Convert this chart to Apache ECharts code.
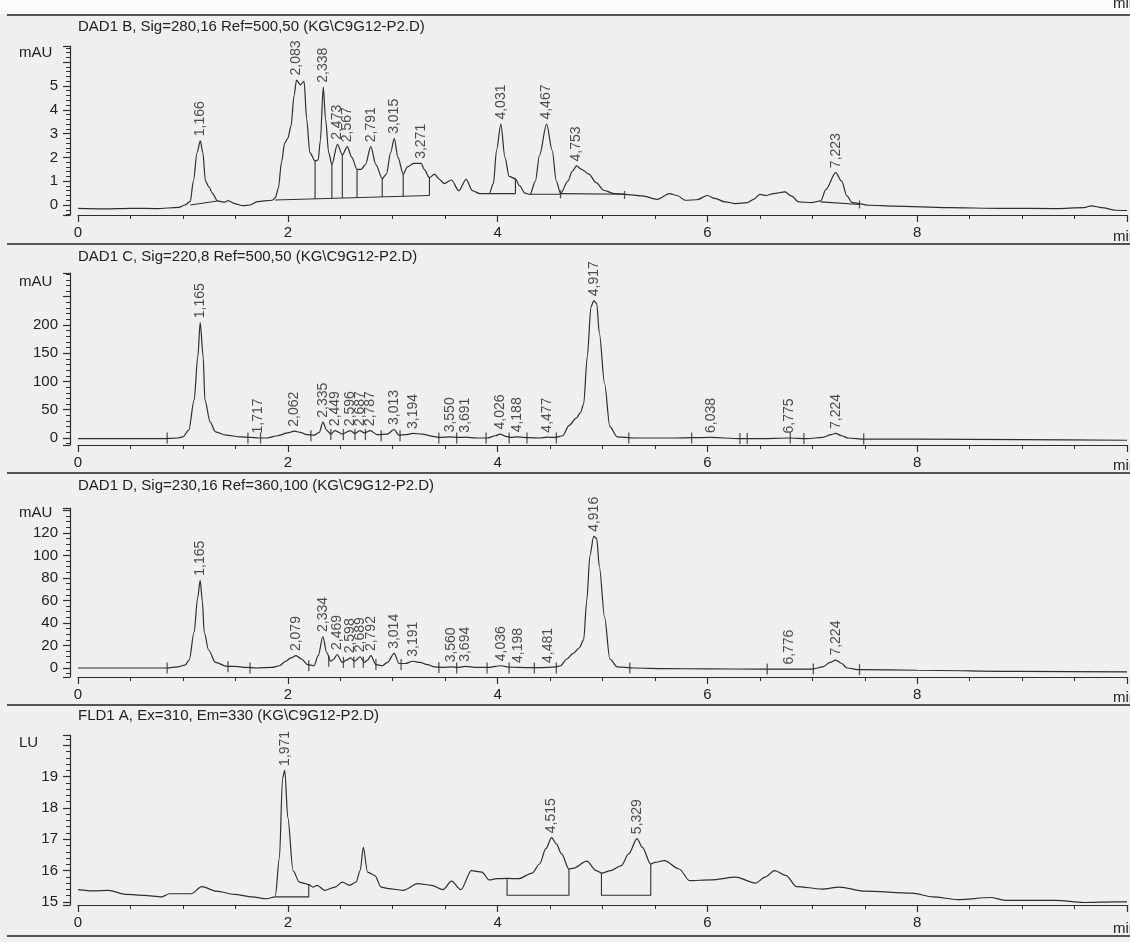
<!DOCTYPE html>
<html>
<head>
<meta charset="utf-8">
<title>KG C9G12-P2 chromatograms</title>
<script src="https://cdn.jsdelivr.net/npm/echarts@6/dist/echarts.min.js"></script>
<style>
  html, body { margin: 0; padding: 0; background: #efefef; }
  #chart { width: 1130px; height: 942px; }
</style>
</head>
<body>
<div id="chart"></div>
<script>
// ---------- signal titles and units ----------
const TITLES = [
  'DAD1 B, Sig=280,16 Ref=500,50 (KG\\C9G12-P2.D)',
  'DAD1 C, Sig=220,8 Ref=500,50 (KG\\C9G12-P2.D)',
  'DAD1 D, Sig=230,16 Ref=360,100 (KG\\C9G12-P2.D)',
  'FLD1 A, Ex=310, Em=330 (KG\\C9G12-P2.D)'
];
const UNITS = ['mAU', 'mAU', 'mAU', 'LU'];

// ---------- tick labels ----------
const X_TICKS = [0, 2, 4, 6, 8];
const Y_TICKS_B = [0, 1, 2, 3, 4, 5];
const Y_TICKS_C = [0, 50, 100, 150, 200];
const Y_TICKS_D = [0, 20, 40, 60, 80, 100, 120];
const Y_TICKS_A = [15, 16, 17, 18, 19];

// ---------- DAD1 B (280 nm) ----------
// labelled peaks: [retention time, apex height]
const PEAKS_B = [[1.166, 2.7], [2.083, 5.25], [2.338, 4.95], [2.473, 2.55], [2.567, 2.45], [2.791, 2.45],
  [3.015, 2.8], [3.271, 1.75], [4.031, 3.4], [4.467, 3.4], [4.753, 1.64], [7.223, 1.36]];
// signal between the labelled apexes: [time, mAU]
const TRACE_B = [[0.00, -0.14], [0.25, -0.16], [0.50, -0.14], [0.75, -0.15], [0.96, -0.10], [1.02, 0.00],
  [1.07, 0.15], [1.10, 1.0], [1.135, 2.2], [1.19, 2.2], [1.215, 1.0], [1.25, 0.75], [1.28, 0.5], [1.33, 0.17],
  [1.40, 0.12], [1.43, 0.18], [1.50, 0.05], [1.57, -0.03], [1.64, 0.0], [1.71, 0.14], [1.85, 0.2], [1.88, 0.3],
  [1.91, 0.7], [1.94, 1.8], [1.97, 2.6], [2.00, 2.8], [2.03, 3.3], [2.06, 4.6], [2.12, 5.05], [2.155, 5.2],
  [2.18, 3.6], [2.21, 2.2], [2.26, 1.85], [2.29, 1.9], [2.31, 2.7], [2.36, 3.6], [2.39, 2.2], [2.42, 1.7],
  [2.52, 2.1], [2.61, 2.0], [2.66, 1.5], [2.70, 1.5], [2.74, 1.7], [2.84, 1.7], [2.90, 1.1], [2.94, 1.3],
  [2.98, 2.2], [3.05, 2.0], [3.10, 1.3], [3.14, 1.6], [3.20, 1.75], [3.30, 1.5], [3.35, 1.15], [3.40, 1.3],
  [3.44, 1.1], [3.49, 0.9], [3.56, 1.05], [3.63, 0.6], [3.70, 1.08], [3.76, 0.6], [3.83, 0.48], [3.92, 0.48],
  [3.96, 0.9], [3.99, 2.3], [4.07, 2.0], [4.11, 1.2], [4.17, 1.1], [4.21, 0.8], [4.26, 0.5], [4.31, 0.45],
  [4.36, 1.0], [4.40, 2.1], [4.52, 2.3], [4.56, 1.0], [4.60, 0.48], [4.67, 1.0], [4.71, 1.4], [4.80, 1.5],
  [4.87, 1.3],
  [4.94, 0.94], [5.01, 0.62], [5.11, 0.48], [5.21, 0.45], [5.38, 0.38], [5.52, 0.24], [5.64, 0.48], [5.71, 0.4],
  [5.79, 0.2], [5.90, 0.22], [6.00, 0.4], [6.07, 0.28], [6.17, 0.13], [6.27, 0.06], [6.38, 0.1], [6.44, 0.24],
  [6.50, 0.45], [6.56, 0.4], [6.63, 0.48], [6.74, 0.55], [6.80, 0.38], [6.87, 0.13], [6.99, 0.1], [7.08, 0.17],
  [7.13, 0.66], [7.28, 1.0], [7.33, 0.38], [7.38, 0.1], [7.54, -0.01], [7.78, -0.05], [8.29, -0.11],
  [8.80, -0.14], [9.32, -0.15], [9.59, -0.11], [9.66, -0.04], [9.76, -0.11], [9.89, -0.22], [10.0, -0.23]];
// integration baselines: [start, value, end, value]
const BASE_B = [[1.07, 0.0, 1.33, 0.17], [1.88, 0.21, 3.35, 0.40], [3.92, 0.48, 4.17, 0.48],
  [4.31, 0.45, 4.60, 0.45], [4.60, 0.48, 5.21, 0.45], [7.08, 0.13, 7.45, 0.02]];
// peak separation drops: [time, baseline, signal]
const DROPS_B = [[2.26, 0.26, 1.85], [2.42, 0.28, 1.7], [2.52, 0.29, 2.1], [2.66, 0.31, 1.5],
  [2.90, 0.34, 1.1], [3.10, 0.37, 1.3], [3.35, 0.40, 1.15], [4.17, 0.48, 1.1]];
const MARKS_B = [[4.60, 0.45], [5.21, 0.42], [7.45, 0.02]];

// ---------- DAD1 C (220 nm) ----------
const PEAKS_C = [[1.165, 204], [1.717, 0], [2.062, 12], [2.335, 28], [2.449, 13], [2.596, 13], [2.687, 13],
  [2.787, 13], [3.013, 15], [3.194, 8], [3.550, 2], [3.691, 1.5], [4.026, 7], [4.188, 2], [4.477, 1.5],
  [4.917, 243], [6.038, 1], [6.775, 0], [7.224, 8]];
const TRACE_C = [[0.00, -1], [0.40, -1], [0.80, -1], [0.95, 0], [1.00, 2], [1.056, 14], [1.107, 67],
  [1.142, 144], [1.193, 144], [1.21, 67], [1.26, 28], [1.31, 11], [1.41, 5], [1.55, 2], [1.65, 1], [1.80, 0],
  [1.90, 4], [2.00, 9], [2.12, 10], [2.18, 6], [2.25, 5], [2.30, 10], [2.37, 14], [2.41, 7], [2.52, 7],
  [2.64, 8], [2.73, 9], [2.85, 6], [2.95, 7], [3.06, 5], [3.12, 6], [3.28, 7], [3.38, 3], [3.45, 1], [3.62, 1],
  [3.80, 0], [3.90, 0], [3.98, 4], [4.08, 3], [4.13, 1], [4.30, 0.5], [4.40, 0], [4.55, 1], [4.62, 4],
  [4.68, 22], [4.75, 35], [4.79, 45], [4.82, 60], [4.855, 144], [4.89, 232], [4.945, 238], [4.97, 185],
  [5.02, 96], [5.07, 20], [5.14, 2], [5.30, 0], [5.70, 0], [6.30, -1], [6.50, -1], [6.95, -1], [7.10, 1],
  [7.18, 6], [7.28, 4], [7.34, 0], [7.50, -2], [8.00, -2], [9.00, -3], [10.0, -4]];
// peak start / end ticks: [time, signal]
const MARKS_C = [[0.85, 0], [1.62, 0], [1.74, 0], [2.22, 4], [2.41, 6], [2.53, 6], [2.64, 6], [2.74, 6],
  [2.89, 4], [3.07, 4], [3.44, 0], [3.61, 0], [3.89, 0], [4.11, 0], [4.28, 0], [4.56, 0], [5.25, 0],
  [5.85, 0], [6.31, -1], [6.38, -1], [6.79, 0], [6.92, -1], [7.49, -2]];

// ---------- DAD1 D (230 nm) ----------
const PEAKS_D = [[1.165, 78], [2.079, 11], [2.334, 28], [2.469, 12], [2.598, 9], [2.689, 10], [2.792, 11],
  [3.014, 13], [3.191, 6], [3.560, 1], [3.694, 1.5], [4.036, 2], [4.198, 0.5], [4.481, 0.5], [4.916, 117],
  [6.776, -1], [7.224, 7]];
const TRACE_D = [[0.00, 0], [0.50, 0], [0.85, 0], [0.95, 1], [1.02, 2.5], [1.06, 7], [1.107, 32], [1.14, 62],
  [1.185, 60], [1.203, 32], [1.245, 16], [1.31, 5], [1.42, 1.5], [1.50, 1.5], [1.60, 0.5], [1.70, 0],
  [1.85, 0.5], [1.92, 2], [1.98, 6], [2.03, 9], [2.13, 8], [2.19, 3], [2.25, 2], [2.29, 11], [2.37, 14],
  [2.41, 6], [2.44, 8], [2.52, 5], [2.56, 7], [2.64, 6], [2.73, 5], [2.76, 7], [2.84, 3], [2.90, 2], [2.95, 5],
  [3.06, 4], [3.12, 4], [3.26, 5], [3.33, 3], [3.40, 1], [3.48, 0.5], [3.62, 0.5], [3.80, 0.5], [3.92, 0.5],
  [3.98, 1.5], [4.10, 0.8], [4.35, 0.3], [4.55, 1], [4.60, 2], [4.66, 8], [4.72, 13], [4.78, 18], [4.82, 25],
  [4.85, 60], [4.88, 100], [4.945, 115], [4.97, 90], [5.02, 45], [5.07, 8], [5.14, 1], [5.30, 0],
  [5.60, -0.5], [6.00, -0.8], [6.50, -1], [7.00, -1], [7.10, 1], [7.17, 5], [7.28, 4], [7.33, 0],
  [7.45, -1.5], [8.00, -2], [9.00, -3], [10.0, -3.5]];
const MARKS_D = [[0.85, 0], [1.43, 1], [1.64, 0], [2.20, 2], [2.39, 6], [2.53, 5], [2.63, 5], [2.72, 5],
  [2.84, 3], [3.08, 3], [3.44, 0.5], [3.61, 0], [3.90, 0], [4.11, 0], [4.35, 0], [4.56, 0], [5.26, 0],
  [6.57, -1], [7.01, -1], [7.45, -1.5]];

// ---------- FLD1 A (fluorescence) ----------
const PEAKS_A = [[1.971, 19.2], [4.515, 17.05], [5.329, 17.02]];
const TRACE_A = [[0.00, 15.39], [0.15, 15.35], [0.29, 15.37], [0.46, 15.24], [0.63, 15.21], [0.80, 15.16],
  [0.87, 15.26], [1.08, 15.26], [1.18, 15.49], [1.32, 15.34], [1.49, 15.24], [1.66, 15.16], [1.80, 15.1],
  [1.88, 15.16], [1.92, 16.4], [1.95, 18.95], [2.00, 17.7], [2.05, 16.0], [2.11, 15.63], [2.17, 15.58],
  [2.20, 15.55], [2.24, 15.47], [2.28, 15.53], [2.35, 15.37], [2.45, 15.47], [2.52, 15.63], [2.59, 15.53],
  [2.65, 15.63], [2.69, 16.0], [2.72, 16.74], [2.76, 15.95], [2.83, 15.84], [2.89, 15.47], [2.96, 15.42],
  [3.10, 15.37], [3.24, 15.58], [3.37, 15.53], [3.48, 15.39], [3.56, 15.66], [3.65, 15.39], [3.75, 16.0],
  [3.85, 15.95], [3.92, 15.7], [3.99, 15.74], [4.09, 15.75], [4.20, 15.74], [4.33, 15.92], [4.40, 16.21],
  [4.46, 16.7], [4.56, 16.85], [4.61, 16.53], [4.68, 16.05], [4.72, 16.07], [4.85, 16.3], [4.94, 16.0],
  [4.99, 15.92], [5.08, 16.0], [5.18, 16.16], [5.25, 16.53], [5.38, 16.74], [5.46, 16.21], [5.50, 16.26],
  [5.59, 16.32], [5.73, 16.05], [5.83, 15.68], [6.03, 15.7], [6.27, 15.79], [6.46, 15.6], [6.55, 15.79],
  [6.64, 16.0], [6.75, 15.84], [6.85, 15.49], [7.09, 15.41], [7.26, 15.47], [7.50, 15.34], [7.95, 15.28],
  [8.15, 15.16], [8.39, 15.07], [8.70, 15.14], [8.84, 15.05], [9.32, 15.05], [9.59, 14.98], [9.89, 15.0],
  [10.0, 15.0]];
// integration boxes: [start, end, baseline, signal at start, signal at end]
const BOXES_A = [[1.88, 2.20, 15.16, 15.16, 15.55], [4.09, 4.68, 15.21, 15.75, 16.05],
  [4.99, 5.46, 15.21, 15.92, 16.21]];

// ---------- page layout (pixels) ----------
const LAYOUT = [
  { top: 46,  axis: 215, min: -0.42, max: 6.68,  step: 1,  minor: 5, titleY: 27,  unitY: 53,  sepTop: 15 },
  { top: 273, axis: 445, min: -12.4, max: 292,   step: 50, minor: 5, titleY: 257, unitY: 282, sepTop: 244 },
  { top: 508, axis: 677, min: -8,    max: 142.2, step: 20, minor: 4, titleY: 486, unitY: 513, sepTop: 473 },
  { top: 735, axis: 905, min: 14.9,  max: 20.33, step: 1,  minor: 5, titleY: 716, unitY: 743, sepTop: 705 }
];
const BOTTOM_SEP = 936;
const INK = '#2e2e2e';
const TEXT = '#222222';
const FONT = '"Liberation Sans", Arial, sans-serif';

const PANELS = [
  { trace: TRACE_B, peaks: PEAKS_B, yTicks: Y_TICKS_B },
  { trace: TRACE_C, peaks: PEAKS_C, yTicks: Y_TICKS_C },
  { trace: TRACE_D, peaks: PEAKS_D, yTicks: Y_TICKS_D },
  { trace: TRACE_A, peaks: PEAKS_A, yTicks: Y_TICKS_A }
];

const fmtTime = t => t.toFixed(3).replace('.', ',');
const inList = (list, v) => list.some(x => Math.abs(x - v) < 1e-6);
const withPeaks = (trace, peaks) => trace.concat(peaks).sort((a, b) => a[0] - b[0]);

const grids = [], xAxes = [], yAxes = [], series = [];
// white strip above the first frame line
const graphics = [{ type: 'rect', shape: { x: 0, y: 0, width: 1130, height: 14 },
  style: { fill: '#fbfbfb' }, z: -1 }];

PANELS.forEach((p, i) => {
  const L = LAYOUT[i];
  grids.push({ left: 78, right: -10, top: L.top, height: L.axis - L.top });

  xAxes.push({
    gridIndex: i, type: 'value', min: 0, max: 10, minInterval: 2, maxInterval: 2,
    axisLine: { show: true, onZero: false, lineStyle: { color: INK, width: 1.2 } },
    axisTick: { show: true, length: 7, lineStyle: { color: INK, width: 1.2 } },
    minorTick: { show: true, splitNumber: 4, length: 4, lineStyle: { color: INK, width: 1 } },
    splitLine: { show: false },
    axisLabel: { margin: 10, fontSize: 15, color: TEXT, fontFamily: FONT,
      formatter: v => inList(X_TICKS, v) ? String(v) : '' }
  });

  yAxes.push({
    gridIndex: i, type: 'value', min: L.min, max: L.max, minInterval: L.step, maxInterval: L.step,
    offset: 8,
    axisLine: { show: true, onZero: false, lineStyle: { color: INK, width: 1.2 } },
    axisTick: { show: true, length: 7, lineStyle: { color: INK, width: 1.2 } },
    minorTick: { show: true, splitNumber: L.minor, length: 4, lineStyle: { color: INK, width: 1 } },
    splitLine: { show: false },
    axisLabel: { margin: 12, fontSize: 15, color: TEXT, fontFamily: FONT,
      showMinLabel: false, showMaxLabel: false,
      formatter: v => inList(p.yTicks, v) ? String(v) : '' }
  });

  // detector signal
  series.push({
    type: 'line', xAxisIndex: i, yAxisIndex: i, data: withPeaks(p.trace, p.peaks),
    symbol: 'none', smooth: 0.3, smoothMonotone: 'x', silent: true, z: 3,
    lineStyle: { color: INK, width: 1.2 }
  });

  // retention-time labels at the peak apexes
  series.push({
    type: 'scatter', xAxisIndex: i, yAxisIndex: i, data: p.peaks, symbolSize: 1, silent: true, z: 4,
    itemStyle: { color: 'rgba(0,0,0,0)' },
    label: {
      show: true, position: 'top', distance: 4, rotate: 90, align: 'left', verticalAlign: 'middle',
      fontSize: 14, color: TEXT, fontFamily: FONT,
      formatter: d => fmtTime(d.value[0])
    }
  });

  // title, unit and frame lines
  graphics.push({ type: 'text', x: 78, y: L.titleY,
    style: { text: TITLES[i], fill: TEXT, font: '15px ' + FONT, verticalAlign: 'middle' } });
  graphics.push({ type: 'text', x: 19, y: L.unitY,
    style: { text: UNITS[i], fill: TEXT, font: '15px ' + FONT, verticalAlign: 'middle' } });
  graphics.push({ type: 'line', shape: { x1: 7, y1: L.sepTop, x2: 1130, y2: L.sepTop },
    style: { stroke: '#555555', lineWidth: 1.8 } });
  const nextSep = i < 3 ? LAYOUT[i + 1].sepTop : BOTTOM_SEP;
  graphics.push({ type: 'text', x: 1113, y: nextSep - 7,
    style: { text: 'min', fill: TEXT, font: '15px ' + FONT, verticalAlign: 'middle' } });
});

graphics.push({ type: 'line', shape: { x1: 7, y1: BOTTOM_SEP, x2: 1130, y2: BOTTOM_SEP },
  style: { stroke: '#555555', lineWidth: 1.8 } });
graphics.push({ type: 'text', x: 1113, y: 4,
  style: { text: 'min', fill: TEXT, font: '15px ' + FONT, verticalAlign: 'middle' } });

// integration lines of the 280 nm signal
const segLines = (idx, coordsList) => ({
  type: 'lines', coordinateSystem: 'cartesian2d', xAxisIndex: idx, yAxisIndex: idx, polyline: true,
  silent: true, z: 2, data: coordsList.map(c => ({ coords: c })),
  lineStyle: { color: INK, width: 1.1, opacity: 1 }
});
series.push(segLines(0, BASE_B.map(b => [[b[0], b[1]], [b[2], b[3]]])));
series.push(segLines(0, DROPS_B.map(d => [[d[0], d[1]], [d[0], d[2]]])));
// integration boxes of the fluorescence signal
series.push(segLines(3, BOXES_A.map(b => [[b[0], b[3]], [b[0], b[2]], [b[1], b[2]], [b[1], b[4]]])));

// short peak start / end ticks
const tickMarks = (idx, data, h) => ({
  type: 'scatter', xAxisIndex: idx, yAxisIndex: idx, data: data, symbol: 'rect',
  symbolSize: [1.3, h], silent: true, z: 2, itemStyle: { color: INK }
});
series.push(tickMarks(0, MARKS_B, 8));
series.push(tickMarks(1, MARKS_C, 11));
series.push(tickMarks(2, MARKS_D, 11));

const chart = echarts.init(document.getElementById('chart'), null, { renderer: 'canvas' });
chart.setOption({
  animation: false,
  backgroundColor: 'transparent',
  textStyle: { fontFamily: FONT },
  grid: grids,
  xAxis: xAxes,
  yAxis: yAxes,
  series: series,
  graphic: graphics
});
</script>
</body>
</html>
